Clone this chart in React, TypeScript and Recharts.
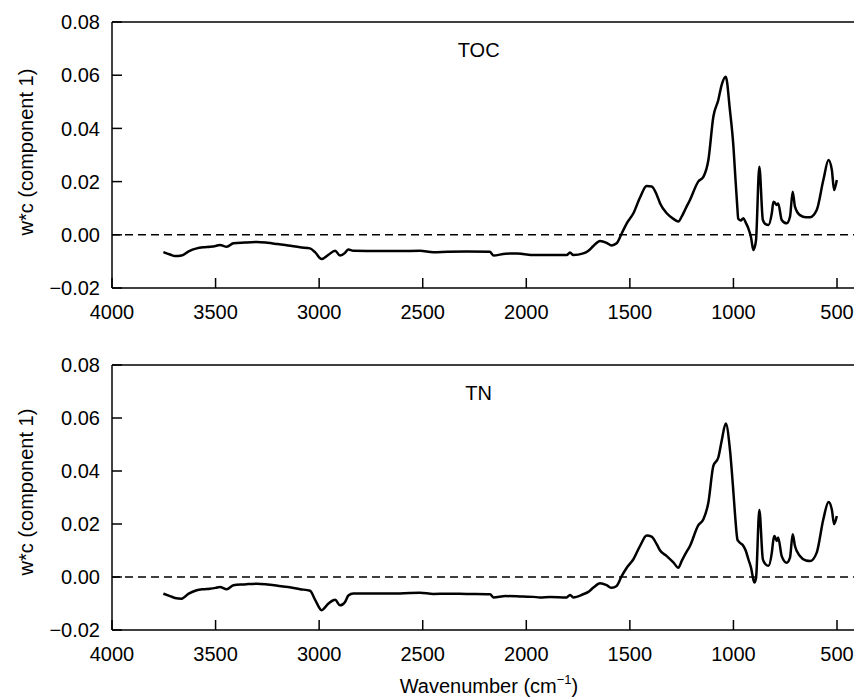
import { LineChart, Line, XAxis, YAxis, ReferenceLine, ReferenceDot } from 'recharts';

// wavenumber (cm-1), same grid for both panels
const wavenumbers = [
  3752, 3720, 3696, 3664, 3630, 3591, 3560, 3527, 3500, 3479,
  3446, 3414, 3360, 3301, 3250, 3200, 3150, 3092, 3044, 3020,
  2988, 2955, 2923, 2899, 2875, 2859, 2835, 2700, 2610, 2513,
  2449, 2380, 2288, 2175, 2159, 2100, 2046, 2016, 1966, 1934,
  1885, 1805, 1789, 1773, 1725, 1700, 1676, 1644, 1612, 1588,
  1564, 1539, 1515, 1483, 1451, 1419, 1395, 1370, 1354, 1322,
  1290, 1266, 1250, 1230, 1210, 1170, 1145, 1121, 1097, 1073,
  1057, 1037, 1017, 1000, 993, 981, 977, 965, 952, 940,
  928, 915, 904, 899, 891, 875, 858, 845, 831, 815,
  807, 802, 791, 784, 767, 743, 727, 714, 703, 679,
  650, 630, 598, 566, 541, 525, 514, 501,
];

const tocValues = [
  -0.0065, -0.0074, -0.008, -0.0078, -0.0062, -0.0051, -0.0047, -0.0045, -0.0042, -0.0038,
  -0.0045, -0.0032, -0.0029, -0.0027, -0.003, -0.0035, -0.004, -0.0047, -0.0051, -0.0065,
  -0.0091, -0.0075, -0.006, -0.0078, -0.0068, -0.0055, -0.006, -0.0061, -0.0061, -0.006,
  -0.0066, -0.0064, -0.0063, -0.0064, -0.0078, -0.0071, -0.007, -0.0072, -0.0076, -0.0076,
  -0.0076, -0.0076, -0.0067, -0.0076, -0.007, -0.006, -0.0042, -0.0023, -0.003, -0.004,
  -0.0032, 0.0006, 0.0043, 0.0081, 0.014, 0.0183, 0.0182, 0.015, 0.0118, 0.0081,
  0.006, 0.005, 0.0068, 0.01, 0.0131, 0.02, 0.0218, 0.0281, 0.0444, 0.0507,
  0.0563, 0.0594, 0.0469, 0.0331, 0.0244, 0.01, 0.006, 0.0054, 0.0062, 0.0045,
  0.0024, -0.001, -0.0057, -0.005, -0.002, 0.0256, 0.0056, 0.004, 0.0037, 0.008,
  0.0124, 0.0122, 0.0112, 0.0118, 0.0056, 0.0043, 0.0068, 0.0162, 0.0106, 0.0074,
  0.0066, 0.0066, 0.0093, 0.0206, 0.0281, 0.0244, 0.0168, 0.0206,
];

const tnValues = [
  -0.0063, -0.0072, -0.0079, -0.0082, -0.0063, -0.005, -0.0046, -0.0044, -0.0041, -0.0038,
  -0.0046, -0.0031, -0.0028, -0.0025, -0.0028, -0.0033, -0.0038, -0.0046, -0.0052, -0.0085,
  -0.0125, -0.01, -0.0086, -0.0107, -0.0094, -0.007, -0.0062, -0.0062, -0.0062, -0.0059,
  -0.0064, -0.0063, -0.0064, -0.0065, -0.0077, -0.0072, -0.0073, -0.0074, -0.0075, -0.0077,
  -0.0075, -0.0077, -0.0068, -0.0077, -0.0065, -0.0056, -0.004, -0.0024, -0.0031, -0.0041,
  -0.0034, 0.0004, 0.0035, 0.0067, 0.0117, 0.0157, 0.0152, 0.0123, 0.01, 0.0079,
  0.0055, 0.0035, 0.006, 0.009, 0.0117, 0.0195, 0.0218, 0.0281, 0.0419, 0.0451,
  0.0513, 0.0579, 0.0482, 0.0318, 0.0243, 0.0142, 0.0136, 0.0127, 0.0117, 0.0098,
  0.0067, 0.0035, -0.0009, -0.0021, -0.0005, 0.0253, 0.0067, 0.0048, 0.0042, 0.009,
  0.0142, 0.0155, 0.0136, 0.0149, 0.0079, 0.0054, 0.0073, 0.0161, 0.0117, 0.0079,
  0.0062, 0.006, 0.0092, 0.0218, 0.0283, 0.0255, 0.0199, 0.023,
];

const xTicks = [4000, 3500, 3000, 2500, 2000, 1500, 1000, 500];
const yTicks = [-0.02, 0, 0.02, 0.04, 0.06, 0.08];

const FONT = '"Liberation Sans", Arial, Helvetica, sans-serif';
const axisStyle = { stroke: '#000', strokeWidth: 1.5 };

const fmtY = (v: number) => v.toFixed(2).replace('-', '\u2212');

// ticks point inward, so draw the tick mark and its label together
function XTick({ x, y, payload }: any) {
  return (
    <g>
      <line x1={x} x2={x} y1={y} y2={y - 10} stroke="#000" strokeWidth={1.5} />
      <text x={x} y={y + 17} dy="0.71em" textAnchor="middle" fontSize={20} fontFamily={FONT} fill="#000">
        {payload.value}
      </text>
    </g>
  );
}

function YTick({ x, y, payload }: any) {
  return (
    <g>
      <line x1={x} x2={x + 10} y1={y} y2={y} stroke="#000" strokeWidth={1.5} />
      <text x={x - 12} y={y} dy="0.355em" textAnchor="end" fontSize={20} fontFamily={FONT} fill="#000">
        {fmtY(payload.value)}
      </text>
    </g>
  );
}

function YTitle() {
  return (
    <text
      x={26}
      y={152}
      transform="rotate(-90 26 152)"
      textAnchor="middle"
      dominantBaseline="central"
      fontSize={20}
      fontFamily={FONT}
      fill="#000"
    >
      w*c (component 1)
    </text>
  );
}

function XTitle() {
  return (
    <text x={489} y={353} textAnchor="middle" fontSize={20} fontFamily={FONT} fill="#000">
      Wavenumber (cm
      <tspan fontSize={13} dy={-9}>{'\u22121'}</tspan>
      <tspan dy={9}>)</tspan>
    </text>
  );
}

interface PanelProps {
  title: string;
  values: number[];
  height: number;
  top: number;
  bottom: number;
  showXTitle?: boolean;
}

function Panel({ title, values, height, top, bottom, showXTitle }: PanelProps) {
  const data = wavenumbers.map((wn, i) => ({ wn, v: values[i] }));
  return (
    <LineChart width={854} height={height} data={data} margin={{ top, right: 0, bottom, left: 0 }}>
      <XAxis
        dataKey="wn"
        type="number"
        domain={[418, 4000]}
        reversed
        allowDataOverflow
        ticks={xTicks}
        interval={0}
        height={52}
        tickSize={0}
        tickMargin={0}
        tick={<XTick />}
        tickLine={false}
        axisLine={axisStyle}
        label={showXTitle ? () => <XTitle /> : undefined}
      />
      <YAxis
        type="number"
        domain={[-0.02, 0.08]}
        ticks={yTicks}
        interval={0}
        width={112}
        tickSize={0}
        tickMargin={0}
        tick={<YTick />}
        tickLine={false}
        axisLine={axisStyle}
        label={() => <YTitle />}
      />
      <ReferenceLine y={0.08} stroke="#000" strokeWidth={1.5} />
      <ReferenceLine y={0} stroke="#000" strokeWidth={1.5} strokeDasharray="8 5" />
      <ReferenceDot
        x={2230}
        y={0.0695}
        r={0}
        stroke="none"
        fill="none"
        label={{ value: title, position: 'center', fill: '#000', fontSize: 20, fontFamily: FONT }}
      />
      <Line
        type="monotone"
        dataKey="v"
        stroke="#000"
        strokeWidth={2.5}
        strokeLinejoin="round"
        dot={false}
        isAnimationActive={false}
      />
    </LineChart>
  );
}

export default function App() {
  return (
    <div style={{ position: 'absolute', left: 0, top: 0, width: 854, height: 700, background: '#fff' }}>
      <Panel title="TOC" values={tocValues} height={340} top={22} bottom={0} />
      <Panel title="TN" values={tnValues} height={360} top={25} bottom={18} showXTitle />
    </div>
  );
}
